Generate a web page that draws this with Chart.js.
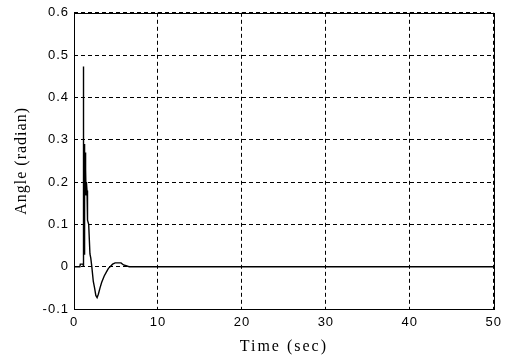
<!DOCTYPE html>
<html>
<head>
<meta charset="utf-8">
<script src="https://cdn.jsdelivr.net/npm/chart.js@4"></script>
<style>
  body { margin: 0; background: #fff; }
  canvas { display: block; }
</style>
</head>
<body>
<canvas id="angle-chart" width="507" height="356"></canvas>
<script>
// response (time in sec, angle in radian)
var timeValues = [0, 0.70, 0.75, 1.08, 1.10, 1.13, 1.17, 1.20, 1.24, 1.28, 1.32, 1.36, 1.40, 1.44, 1.48, 1.55, 1.60, 1.62, 1.75, 1.90, 2.00, 2.12, 2.30, 2.45, 2.60, 2.75, 2.90, 3.10, 3.30, 3.60, 3.90, 4.10, 4.30, 4.60, 4.90, 5.60, 5.90, 6.40, 6.60, 50];
var angleValues = [0, 0, 0.006, 0.006, 0.473, 0.0, 0.30, 0.03, 0.29, 0.17, 0.27, 0.17, 0.23, 0.17, 0.20, 0.18, 0.174, 0.11, 0.10, 0.03, 0.02, 0.0, -0.035, -0.05, -0.068, -0.073, -0.065, -0.05, -0.037, -0.022, -0.011, -0.004, 0.0, 0.006, 0.009, 0.009, 0.004, 0.001, 0, 0];
var xTicks = [0, 10, 20, 30, 40, 50];
var yTicks = [-0.1, 0, 0.1, 0.2, 0.3, 0.4, 0.5, 0.6];

var points = [];
for (var i = 0; i < timeValues.length; i++) {
	points.push({x: timeValues[i], y: angleValues[i]});
}

// wrap a scale's text drawing so it gets some letter spacing
function spaced(scale, name, spacing) {
	if (scale["_sp_" + name]) return;
	var orig = scale[name];
	scale[name] = function() {
		var ctx = this.ctx;
		ctx.save();
		ctx.letterSpacing = spacing;
		orig.apply(this, arguments);
		ctx.restore();
	};
	scale["_sp_" + name] = true;
}

var spacingPlugin = {
	id: "spacing",
	beforeDraw: function(chart) {
		spaced(chart.scales.x, "drawLabels", "1px");
		spaced(chart.scales.y, "drawLabels", "1px");
		spaced(chart.scales.x, "drawTitle", "2px");
		spaced(chart.scales.y, "drawTitle", "1px");
	}
};

// solid box round the plot, like matlab
var boxPlugin = {
	id: "box",
	afterDraw: function(chart) {
		var a = chart.chartArea;
		var ctx = chart.ctx;
		ctx.save();
		ctx.strokeStyle = "#000";
		ctx.lineWidth = 1;
		ctx.setLineDash([]);
		ctx.strokeRect(Math.round(a.left) + 0.5, Math.round(a.top) + 0.5, Math.round(a.right - a.left), Math.round(a.bottom - a.top));
		ctx.restore();
	}
};

var chartCanvas = document.getElementById("angle-chart");
var angleChart = new Chart(chartCanvas, {
	type: "line",
	data: {
		datasets: [{
			data: points,
			borderColor: "#000",
			borderWidth: 1.4,
			pointRadius: 0,
			fill: false,
			tension: 0
		}]
	},
	options: {
		responsive: false,
		animation: false,
		layout: { padding: { left: 0, top: 9, right: 12, bottom: 0 } },
		plugins: {
			legend: { display: false },
			tooltip: { enabled: false }
		},
		scales: {
			x: {
				type: "linear",
				min: 0,
				max: 50,
				afterBuildTicks: function(scale) {
					scale.ticks = xTicks.map(function(v) { return {value: v}; });
				},
				afterFit: function(scale) { scale.height = 47; },
				grid: { color: "#000", lineWidth: 1, drawTicks: false },
				border: { display: false, dash: [4, 3] },
				ticks: {
					color: "#000",
					padding: 6,
					maxRotation: 0,
					font: { family: "Liberation Sans", size: 13 }
				},
				title: {
					display: true,
					text: "Time (sec)",
					color: "#000",
					padding: { top: 2, bottom: 0 },
					font: { family: "Liberation Serif", size: 16 }
				}
			},
			y: {
				type: "linear",
				min: -0.1,
				max: 0.6,
				afterBuildTicks: function(scale) {
					scale.ticks = yTicks.map(function(v) { return {value: v}; });
				},
				afterFit: function(scale) { scale.width = 74; },
				grid: { color: "#000", lineWidth: 1, drawTicks: false },
				border: { display: false, dash: [4, 3] },
				ticks: {
					color: "#000",
					padding: 5,
					font: { family: "Liberation Sans", size: 13 },
					callback: function(v) { return String(Number(v.toFixed(1))); }
				},
				title: {
					display: true,
					text: "Angle (radian)",
					color: "#000",
					padding: { top: 12, bottom: 0 },
					font: { family: "Liberation Serif", size: 16 }
				}
			}
		}
	},
	plugins: [spacingPlugin, boxPlugin]
});
</script>
</body>
</html>
